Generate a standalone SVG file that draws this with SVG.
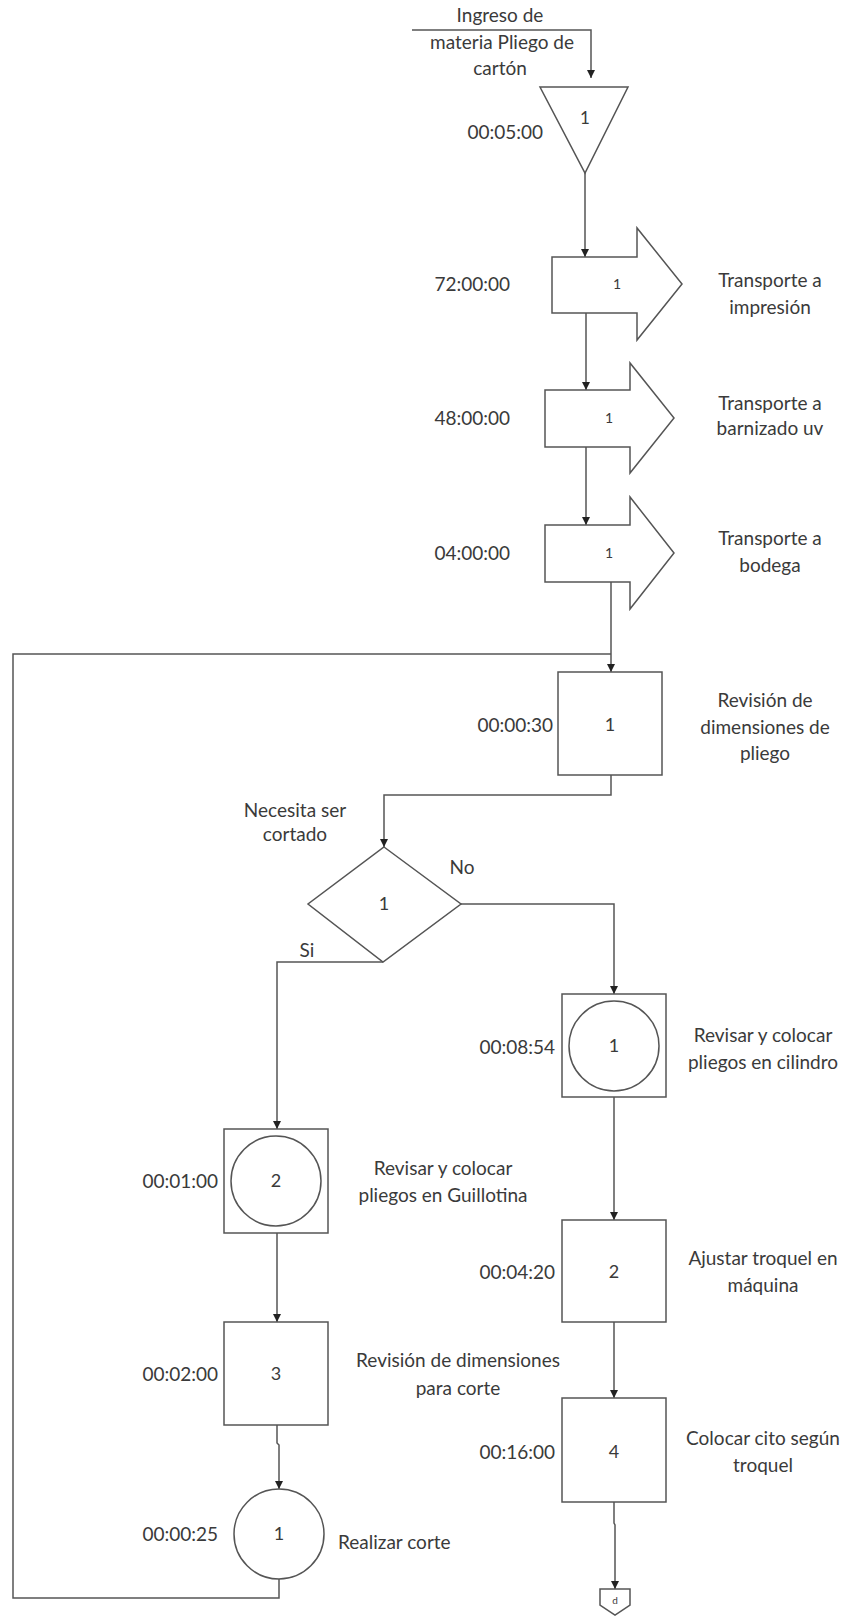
<svg xmlns="http://www.w3.org/2000/svg" width="849" height="1616" viewBox="0 0 849 1616">
<defs>
<marker id="ah" viewBox="0 0 8 8" refX="8" refY="4" markerWidth="8" markerHeight="8" markerUnits="userSpaceOnUse" orient="auto">
<path d="M0,0 L8,4 L0,8 Z" fill="#222"/>
</marker>
<style>
.s{fill:#fff;stroke:#555;stroke-width:1.5}
.c{fill:none;stroke:#555;stroke-width:1.5}
.t{font-family:Lato,"Liberation Sans",sans-serif;font-size:19px;fill:#3a3a3a}
.m{text-anchor:middle}
.e{text-anchor:end}
.n{font-family:Lato,"Liberation Sans",sans-serif;font-size:18px;fill:#3a3a3a;text-anchor:middle}
.ns{font-size:14px}
</style>
</defs>
<rect width="849" height="1616" fill="#fff"/>

<g id="connectors">
<polyline class="c" points="412,30 591,30 591,78" marker-end="url(#ah)"/>
<line class="c" x1="585" y1="173" x2="585" y2="257" marker-end="url(#ah)"/>
<line class="c" x1="586" y1="313" x2="586" y2="390" marker-end="url(#ah)"/>
<line class="c" x1="586" y1="447" x2="586" y2="525" marker-end="url(#ah)"/>
<line class="c" x1="611" y1="582" x2="611" y2="672" marker-end="url(#ah)"/>
<polyline class="c" points="611,775 611,795 384,795 384,847" marker-end="url(#ah)"/>
<polyline class="c" points="461,904 614,904 614,994" marker-end="url(#ah)"/>
<polyline class="c" points="383,962 277,962 277,1129" marker-end="url(#ah)"/>
<line class="c" x1="614" y1="1097" x2="614" y2="1220" marker-end="url(#ah)"/>
<line class="c" x1="614" y1="1322" x2="614" y2="1398" marker-end="url(#ah)"/>
<polyline class="c" points="614,1502 614,1523 615,1525 615,1589" marker-end="url(#ah)"/>
<line class="c" x1="277" y1="1233" x2="277" y2="1322" marker-end="url(#ah)"/>
<polyline class="c" points="277,1425 277,1443 279,1445 279,1489" marker-end="url(#ah)"/>
<polyline class="c" points="279,1579 279,1598 13,1598 13,654 611,654"/>
</g>

<g id="input">
<text class="t m" x="500" y="22">Ingreso de</text>
<text class="t m" x="502" y="49">materia Pliego de</text>
<text class="t m" x="500" y="75">cartón</text>
</g>

<g id="storage1">
<polygon class="s" points="540,87 628,87 585,173"/>
<text class="n" x="585" y="124" style="font-size:17px">1</text>
<text class="t e" x="543" y="139">00:05:00</text>
</g>

<g id="transport1">
<polygon class="s" points="552,257 637,257 637,228 682,284 637,340 637,313 552,313"/>
<text class="n ns" x="617" y="289">1</text>
<text class="t e" x="510" y="291">72:00:00</text>
<text class="t m" x="770" y="287">Transporte a</text>
<text class="t m" x="770" y="314">impresión</text>
</g>

<g id="transport2">
<polygon class="s" points="545,390 630,390 630,363 674,418 630,473 630,447 545,447"/>
<text class="n ns" x="609" y="423">1</text>
<text class="t e" x="510" y="425">48:00:00</text>
<text class="t m" x="770" y="410">Transporte a</text>
<text class="t m" x="770" y="435">barnizado uv</text>
</g>

<g id="transport3">
<polygon class="s" points="545,525 630,525 630,497 674,553 630,609 630,582 545,582"/>
<text class="n ns" x="609" y="558">1</text>
<text class="t e" x="510" y="560">04:00:00</text>
<text class="t m" x="770" y="545">Transporte a</text>
<text class="t m" x="770" y="572">bodega</text>
</g>

<g id="inspection1">
<rect class="s" x="558" y="672" width="104" height="103"/>
<text class="n" x="610" y="731">1</text>
<text class="t e" x="553" y="732">00:00:30</text>
<text class="t m" x="765" y="707">Revisión de</text>
<text class="t m" x="765" y="734">dimensiones de</text>
<text class="t m" x="765" y="760">pliego</text>
</g>

<g id="decision1">
<polygon class="s" points="384,847 461,904 383,962 308,904"/>
<text class="n" x="384" y="910">1</text>
<text class="t m" x="295" y="817">Necesita ser</text>
<text class="t m" x="295" y="841">cortado</text>
<text class="t m" x="462" y="874">No</text>
<text class="t m" x="307" y="957">Si</text>
</g>

<g id="combined1">
<rect class="s" x="562" y="994" width="104" height="103"/>
<circle class="s" cx="614" cy="1046" r="45"/>
<text class="n" x="614" y="1052">1</text>
<text class="t e" x="555" y="1054">00:08:54</text>
<text class="t m" x="763" y="1042">Revisar y colocar</text>
<text class="t m" x="763" y="1069">pliegos en cilindro</text>
</g>

<g id="inspection2">
<rect class="s" x="562" y="1220" width="104" height="102"/>
<text class="n" x="614" y="1278">2</text>
<text class="t e" x="555" y="1279">00:04:20</text>
<text class="t m" x="763" y="1265">Ajustar troquel en</text>
<text class="t m" x="763" y="1292">máquina</text>
</g>

<g id="inspection4">
<rect class="s" x="562" y="1398" width="104" height="104"/>
<text class="n" x="614" y="1458">4</text>
<text class="t e" x="555" y="1459">00:16:00</text>
<text class="t m" x="763" y="1445">Colocar cito según</text>
<text class="t m" x="763" y="1472">troquel</text>
</g>

<g id="offpage">
<polygon class="s" points="600,1589 630,1589 630,1605 615,1615 600,1605"/>
<text x="615" y="1604" style="font-family:Lato,'Liberation Sans',sans-serif;font-size:10px;fill:#3a3a3a;text-anchor:middle">d</text>
</g>

<g id="combined2">
<rect class="s" x="224" y="1129" width="104" height="104"/>
<circle class="s" cx="276" cy="1181" r="45"/>
<text class="n" x="276" y="1187">2</text>
<text class="t e" x="218" y="1188">00:01:00</text>
<text class="t m" x="443" y="1175">Revisar y colocar</text>
<text class="t m" x="443" y="1202">pliegos en Guillotina</text>
</g>

<g id="inspection3">
<rect class="s" x="224" y="1322" width="104" height="103"/>
<text class="n" x="276" y="1380">3</text>
<text class="t e" x="218" y="1381">00:02:00</text>
<text class="t m" x="458" y="1367">Revisión de dimensiones</text>
<text class="t m" x="458" y="1395">para corte</text>
</g>

<g id="operation1">
<circle class="s" cx="279" cy="1534" r="45"/>
<text class="n" x="279" y="1540">1</text>
<text class="t e" x="218" y="1541">00:00:25</text>
<text class="t" x="338" y="1549">Realizar corte</text>
</g>
</svg>
